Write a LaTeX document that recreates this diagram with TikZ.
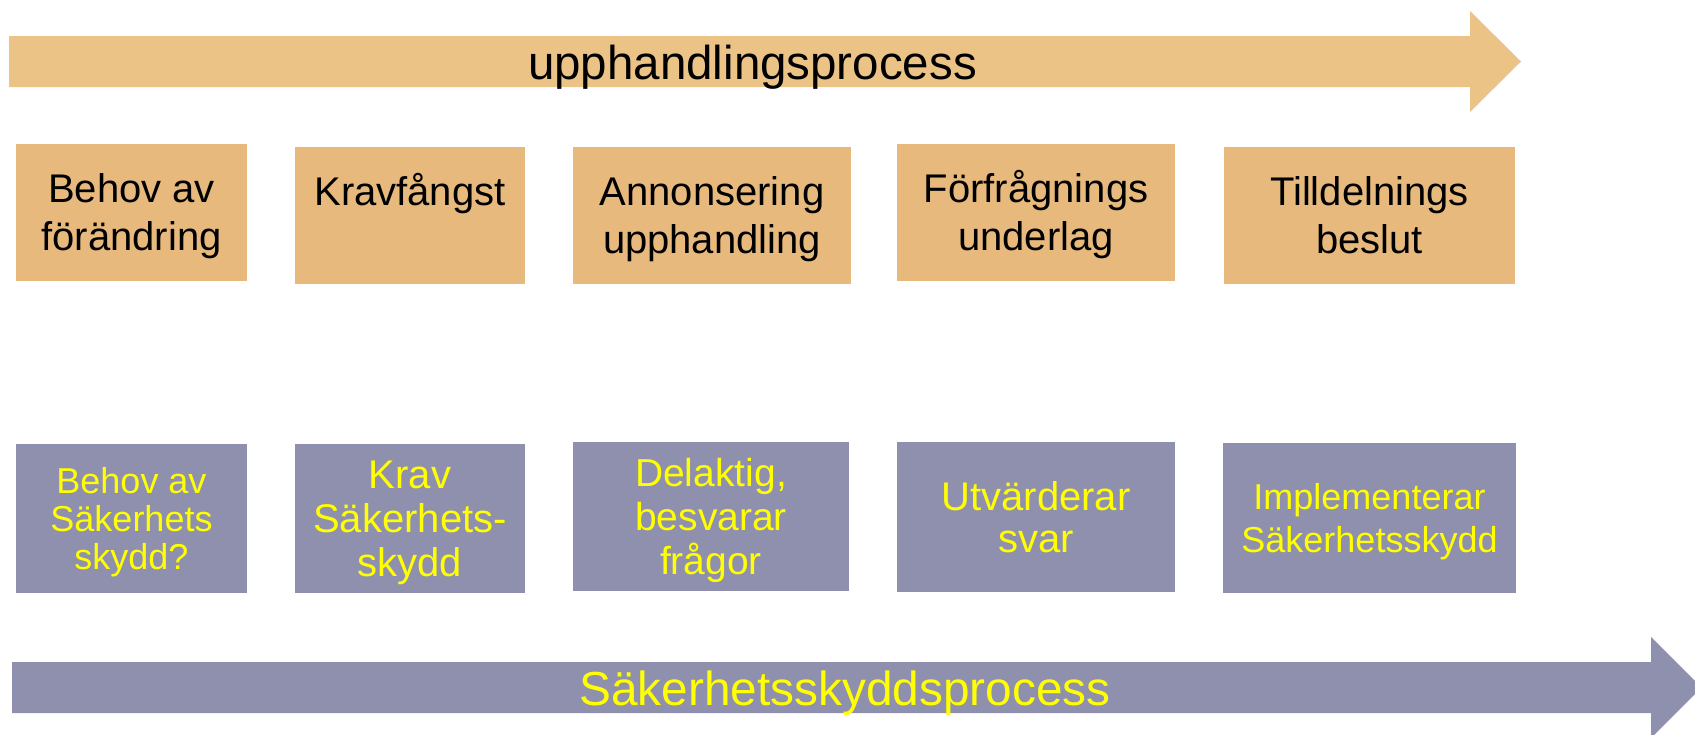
\documentclass[tikz,border=0pt]{standalone}
\usepackage{fontspec}
\setmainfont{Liberation Sans}
\definecolor{procorange}{HTML}{ECC387}
\definecolor{boxorange}{HTML}{E7B97C}
\definecolor{secgray}{HTML}{8E90AE}
\definecolor{secyellow}{HTML}{FFFF00}
\newcommand{\hstrut}{\rule{0pt}{0.91em}}
\newcommand{\dstrut}{\rule[-0.21em]{0pt}{0.21em}}
\begin{document}
\begin{tikzpicture}[x=1pt, y=-1pt,
                    topbox/.style={fill=boxorange, minimum height=137, inner sep=0, align=center, font=\fontsize{40}{47.5}\selectfont},
                    secbox/.style={fill=secgray, text=secyellow, minimum height=149, inner sep=0, align=center, font=\fontsize{40}{43}\selectfont},
                    proclabel/.style={anchor=base, inner sep=0, font=\fontsize{47.5}{50}\selectfont}]
  \useasboundingbox (0,0) rectangle (1695,734);
  % process arrows
  \fill[procorange] (9,36) -- (1470,36) -- (1470,11) -- (1521,61.5) -- (1470,112) -- (1470,87) -- (9,87) -- cycle;
  \fill[secgray] (12,662) -- (1651,662) -- (1651,637) -- (1701.5,687.5) -- (1651,738) -- (1651,713) -- (12,713) -- cycle;
  \node(upph) at (752.5,79)[proclabel]{upphandlingsprocess};
  \node(sakproc) at (845,705)[proclabel, text=secyellow, font=\fontsize{47.8}{50}\selectfont]{Säkerhetsskyddsprocess};
  % upphandling steps
  \node(behov) at (131.5,212.5)[topbox, minimum width=231]{\hstrut Behov av\\förändring\dstrut};
  \node(krav) at (410,215.5)[topbox, minimum width=230]{\hstrut Kravfångst\\\dstrut};
  \node(annons) at (712,215.5)[topbox, minimum width=278]{\hstrut Annonsering\\upphandling\dstrut};
  \node(forfr) at (1036,212.5)[topbox, minimum width=278]{\hstrut Förfrågnings\\underlag\dstrut};
  \node(tilld) at (1369.5,215.5)[topbox, minimum width=291]{\hstrut Tilldelnings\\beslut\dstrut};
  % sakerhetsskydd steps
  \node(sbehov) at (131.5,518.5)[secbox, minimum width=231, font=\fontsize{36}{38}\selectfont]{\hstrut Behov av\\Säkerhets\\skydd?\dstrut};
  \node(skrav) at (410,518.5)[secbox, minimum width=230, font=\fontsize{40}{44}\selectfont]{\hstrut Krav\\Säkerhets-\\skydd\dstrut};
  \node(sdelakt) at (711,516.5)[secbox, minimum width=276, font=\fontsize{39}{44}\selectfont]{\hstrut Delaktig,\\besvarar\\frågor\dstrut};
  \node(sutv) at (1036,517)[secbox, minimum width=278, minimum height=150, font=\fontsize{40}{42}\selectfont]{\hstrut Utvärderar\\svar\dstrut};
  \node(simpl) at (1369.5,518)[secbox, minimum width=293, minimum height=150, font=\fontsize{36}{43}\selectfont]{\hstrut Implementerar\\Säkerhetsskydd\dstrut};
\end{tikzpicture}
\end{document}
